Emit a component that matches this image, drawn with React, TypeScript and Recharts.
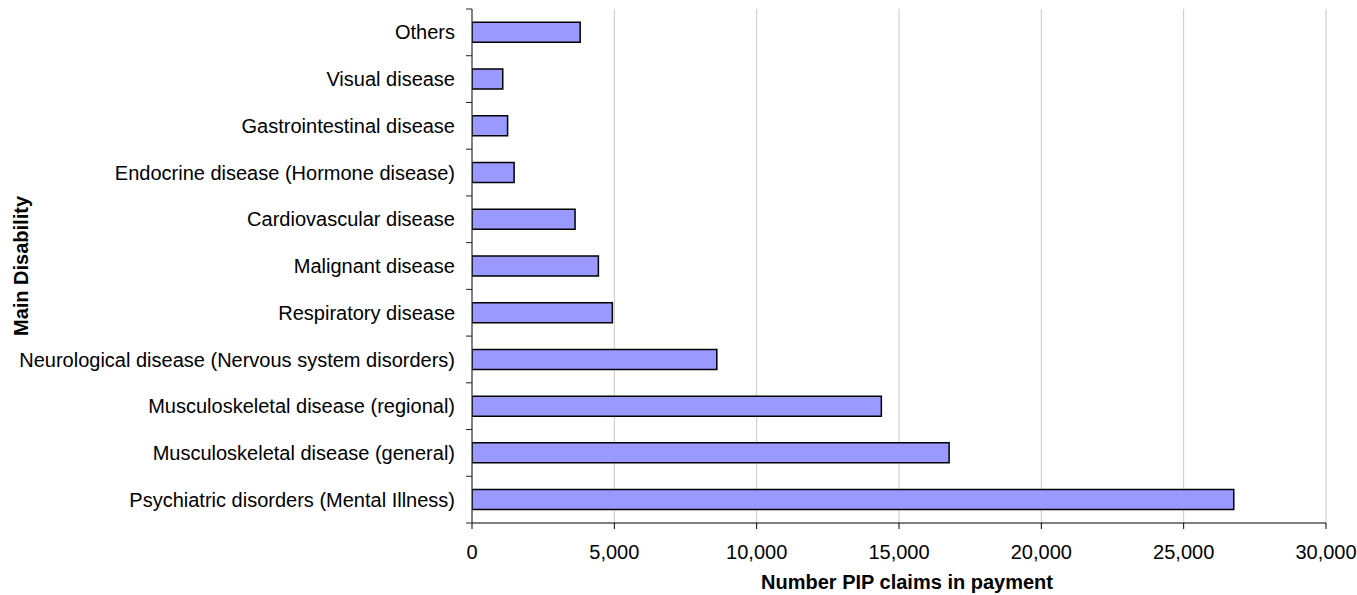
import React from 'react'
import {
  BarChart,
  XAxis,
  YAxis,
  Bar,
  CartesianGrid,
  Label
} from 'recharts'

// main disability groups, top to bottom
const categories = [
  'Others',
  'Visual disease',
  'Gastrointestinal disease',
  'Endocrine disease (Hormone disease)',
  'Cardiovascular disease',
  'Malignant disease',
  'Respiratory disease',
  'Neurological disease (Nervous system disorders)',
  'Musculoskeletal disease (regional)',
  'Musculoskeletal disease (general)',
  'Psychiatric disorders (Mental Illness)'
]

const claims = [3800, 1080, 1250, 1480, 3620, 4440, 4930, 8600, 14380, 16760, 26760]

const xTicks = [0, 5000, 10000, 15000, 20000, 25000, 30000]

const data = categories.map((name, i) => ({ name, claims: claims[i] }))

const FONT = '"Liberation Sans", Arial, sans-serif'
const TICK_SIZE = 6
const TICK_MARGIN = 11
const margin = { top: 9, right: 31, bottom: 0, left: 0 }

const fmt = (v: number) => v.toLocaleString('en-US')

// category tick: label plus tick marks on the band edges (Excel style)
const CategoryTick = (props: any) => {
  const { x, y, payload, index } = props
  const half = payload && payload.offset ? payload.offset : 23.4
  const lx2 = x + TICK_MARGIN + TICK_SIZE
  const lx1 = x + TICK_MARGIN
  const last = index === categories.length - 1
  return (
    <g>
      <line x1={lx1} x2={lx2} y1={y - half} y2={y - half} stroke="#222" />
      {last && <line x1={lx1} x2={lx2} y1={y + half} y2={y + half} stroke="#222" />}
      <text
        x={x}
        y={y}
        dy="0.355em"
        textAnchor="end"
        fill="#000"
        fontSize={20}
        fontFamily={FONT}
      >
        {payload.value}
      </text>
    </g>
  )
}

const YTitle = (props: any) => {
  const vb = props.viewBox || {}
  const cy = vb.height ? vb.y + vb.height / 2 : 266
  return (
    <text
      x={28}
      y={cy}
      transform={`rotate(-90, 28, ${cy})`}
      textAnchor="middle"
      fontSize={20}
      fontWeight="bold"
      fontFamily={FONT}
      fill="#000"
    >
      Main Disability
    </text>
  )
}

const App: React.FC = () => {
  return (
    <div style={{ position: 'absolute', left: 0, top: 0, background: '#fff' }}>
      <BarChart
        layout="vertical"
        width={1357}
        height={595}
        margin={margin}
        data={data}
        barCategoryGap="28.5%"
      >
        <CartesianGrid horizontal={false} stroke="#c8c8c8" />
        <XAxis
          type="number"
          domain={[0, 30000]}
          ticks={xTicks}
          tickFormatter={fmt}
          height={72}
          tickSize={TICK_SIZE}
          tickMargin={16}
          stroke="#000"
          tick={{ fill: '#000', fontSize: 20, fontFamily: FONT }}
          allowDataOverflow
        >
          <Label
            value="Number PIP claims in payment"
            position="insideBottom"
            offset={6}
            dx={8}
            style={{ fontSize: 20, fontWeight: 'bold', fontFamily: FONT, fill: '#000' }}
          />
        </XAxis>
        <YAxis
          type="category"
          dataKey="name"
          width={472}
          tickSize={TICK_SIZE}
          tickMargin={TICK_MARGIN}
          tickLine={false}
          stroke="#222"
          tick={<CategoryTick />}
          interval={0}
        >
          <Label content={<YTitle />} />
        </YAxis>
        <Bar
          dataKey="claims"
          fill="#9999ff"
          stroke="#000"
          strokeWidth={1.5}
          isAnimationActive={false}
        />
      </BarChart>
    </div>
  )
}

export default App
